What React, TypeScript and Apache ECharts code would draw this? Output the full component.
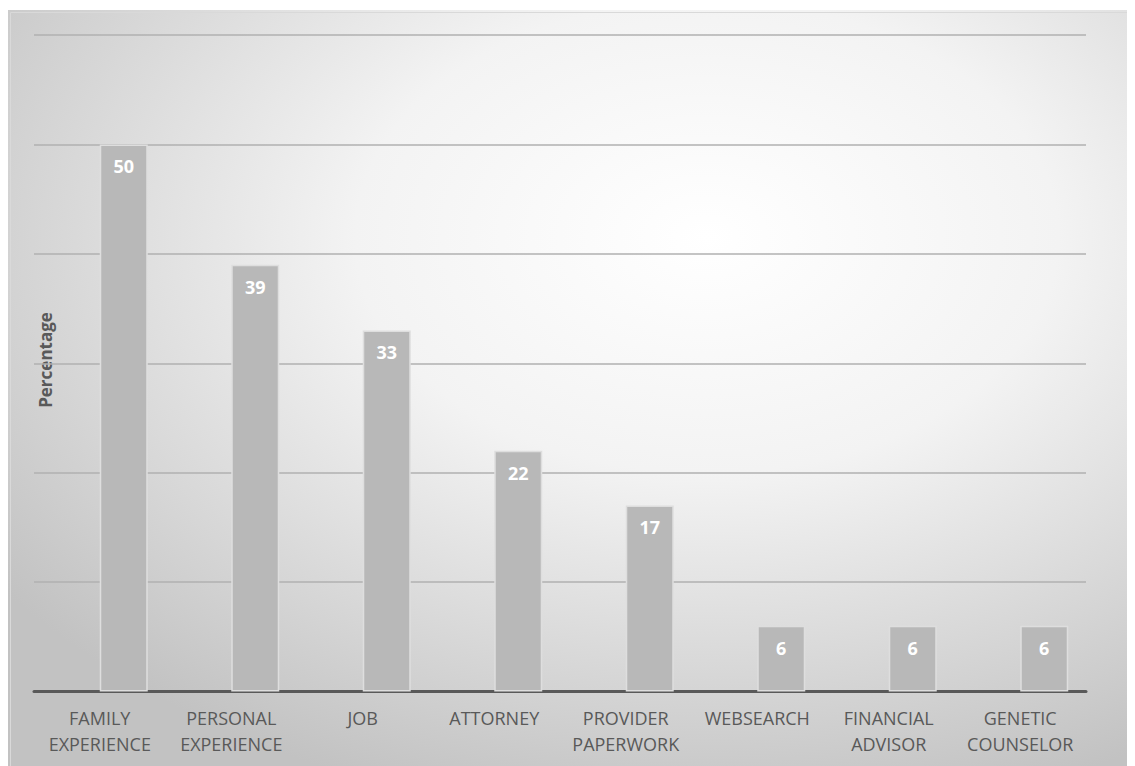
import React, { useEffect, useRef } from "react";
import * as echarts from "echarts";

const categories = [
  "FAMILY\nEXPERIENCE",
  "PERSONAL\nEXPERIENCE",
  "JOB",
  "ATTORNEY",
  "PROVIDER\nPAPERWORK",
  "WEBSEARCH",
  "FINANCIAL\nADVISOR",
  "GENETIC\nCOUNSELOR",
];
const values = [50, 39, 33, 22, 17, 6, 6, 6];
const yAxisTitle = "Percentage";

export default function App() {
  const ref = useRef<HTMLDivElement>(null);
  useEffect(() => {
    if (!ref.current) return;
    const chart = echarts.init(ref.current, null, { renderer: "svg" });
    chart.setOption({
      animation: false,
      backgroundColor: new echarts.graphic.RadialGradient(0.62, 0.3, 0.78, [
        { offset: 0, color: "#ffffff" },
        { offset: 0.4, color: "#f3f3f3" },
        { offset: 1, color: "#c2c2c2" },
      ]),
      grid: { left: 26, right: 49, top: 25, bottom: 74.5 },
      graphic: [
        {
          type: "rect",
          left: 0,
          top: 0,
          shape: { width: 1126, height: 755 },
          style: { fill: "none", stroke: "#d9d9d9", lineWidth: 1 },
          silent: true,
        },
        {
          type: "text",
          x: 37,
          y: 350,
          rotation: Math.PI / 2,
          style: {
            text: yAxisTitle,
            fill: "#595959",
            font: "bold 17px 'Open Sans'",
            align: "center",
            verticalAlign: "middle",
          },
        },
      ],
      xAxis: {
        type: "category",
        data: categories,
        axisLine: { lineStyle: { color: "#595959", width: 3 } },
        axisTick: { show: false },
        axisLabel: {
          interval: 0,
          color: "#595959",
          fontFamily: "Open Sans",
          fontSize: 18,
          lineHeight: 26,
          margin: 13,
        },
      },
      yAxis: {
        type: "value",
        min: 0,
        max: 60,
        interval: 10,
        axisLabel: { show: false },
        axisLine: { show: false },
        axisTick: { show: false },
        splitLine: { lineStyle: { color: "#b0b0b0", width: 1.5 } },
      },
      series: [
        {
          type: "bar",
          data: values.map(() => null),
          barWidth: 48,
          barGap: 0,
          silent: true,
        },
        {
          type: "bar",
          data: values,
          barWidth: 48,
          barGap: 0,
          itemStyle: { color: "#b8b8b8", borderColor: "#dedede", borderWidth: 1.5 },
          label: {
            show: true,
            position: "insideTop",
            distance: 13,
            color: "#ffffff",
            fontFamily: "Open Sans",
            fontWeight: "bold",
            fontSize: 18,
          },
        },
      ],
    });
    return () => chart.dispose();
  }, []);
  return <div ref={ref} style={{ width: 1127, height: 756, marginTop: 2 }} />;
}
